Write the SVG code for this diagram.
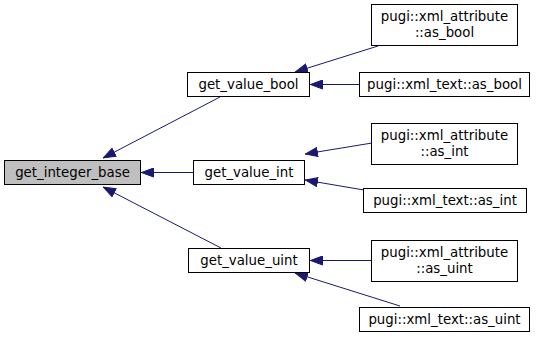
<svg xmlns="http://www.w3.org/2000/svg" width="537" height="338" viewBox="0 0 537 338">
<style>
  .node rect { fill: #ffffff; stroke: #000000; stroke-width: 1; }
  .node.root rect { fill: #bfbfbf; }
  .node text { font-family: "DejaVu Sans", "Liberation Sans", sans-serif; font-size: 13.33px; fill: #000000; text-anchor: middle; }
  .edge { stroke: #191970; stroke-width: 1; fill: none; marker-end: url(#arrow); }
</style>
<defs>
  <marker id="arrow" markerWidth="13" markerHeight="10" refX="13" refY="5" orient="auto" markerUnits="userSpaceOnUse">
    <path d="M0.5,0.5 L12.5,5 L0.5,9.5 Z" fill="#191970" stroke="#191970" stroke-width="1"/>
  </marker>
</defs>
<rect x="0" y="0" width="537" height="338" fill="#ffffff"/>

<g id="connectors">
  <line class="edge" x1="220" y1="97" x2="103" y2="158"/>
  <line class="edge" x1="193" y1="172.5" x2="141" y2="172.5"/>
  <line class="edge" x1="221" y1="248" x2="103" y2="187"/>
  <line class="edge" x1="378" y1="46" x2="295" y2="72"/>
  <line class="edge" x1="359" y1="84.5" x2="310" y2="84.5"/>
  <line class="edge" x1="372" y1="143" x2="305" y2="154"/>
  <line class="edge" x1="364" y1="190" x2="305" y2="180"/>
  <line class="edge" x1="371" y1="260.5" x2="310" y2="260.5"/>
  <line class="edge" x1="400" y1="306" x2="295" y2="273"/>
</g>

<g id="node_get_integer_base" class="node root">
  <rect x="4.5" y="160.5" width="136" height="24"/>
  <text x="72.5" y="177">get_integer_base</text>
</g>
<g id="node_get_value_bool" class="node">
  <rect x="187.5" y="72.5" width="122" height="24"/>
  <text x="248.5" y="89">get_value_bool</text>
</g>
<g id="node_get_value_int" class="node">
  <rect x="193.5" y="160.5" width="111" height="24"/>
  <text x="249" y="177">get_value_int</text>
</g>
<g id="node_get_value_uint" class="node">
  <rect x="188.5" y="248.5" width="121" height="24"/>
  <text x="249" y="265">get_value_uint</text>
</g>
<g id="node_attr_as_bool" class="node">
  <rect x="371.5" y="4.5" width="146" height="41"/>
  <text x="444.5" y="21">pugi::xml_attribute</text>
  <text x="444.5" y="37">::as_bool</text>
</g>
<g id="node_text_as_bool" class="node">
  <rect x="359.5" y="72.5" width="170" height="24"/>
  <text x="444.5" y="89">pugi::xml_text::as_bool</text>
</g>
<g id="node_attr_as_int" class="node">
  <rect x="371.5" y="123.5" width="146" height="41"/>
  <text x="444.5" y="140">pugi::xml_attribute</text>
  <text x="444.5" y="156">::as_int</text>
</g>
<g id="node_text_as_int" class="node">
  <rect x="363.5" y="188.5" width="163" height="24"/>
  <text x="445" y="205">pugi::xml_text::as_int</text>
</g>
<g id="node_attr_as_uint" class="node">
  <rect x="371.5" y="240.5" width="146" height="41"/>
  <text x="444.5" y="257">pugi::xml_attribute</text>
  <text x="444.5" y="273">::as_uint</text>
</g>
<g id="node_text_as_uint" class="node">
  <rect x="359.5" y="307.5" width="170" height="24"/>
  <text x="444.5" y="324">pugi::xml_text::as_uint</text>
</g>
</svg>
